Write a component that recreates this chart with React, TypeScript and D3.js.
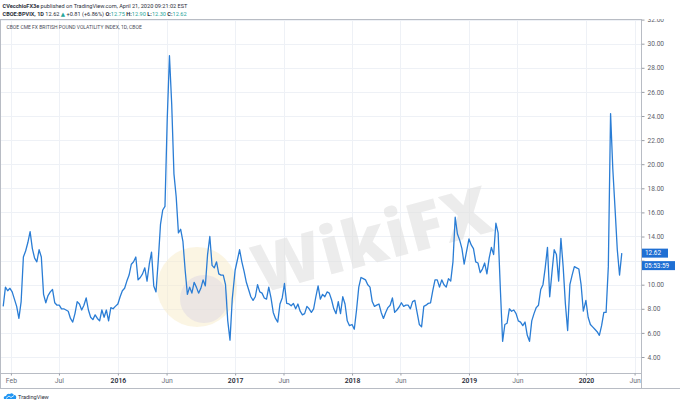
import React, { useEffect, useRef } from 'react';
import * as d3 from 'd3';

const WIDTH = 680;
const HEIGHT = 404;

// weekly readings of CBOE:BPVIX, each year counted from its first date
const vol2015 = [
  8.2, 9.8, 9.5, 9.7, 9.4, 8.8, 8.2, 7.2, 8.6, 12.3, 12.8, 13.5, 14.4, 13.0, 12.2, 11.9, 12.9,
  12.3, 9.2, 8.5, 9.1, 9.4, 9.6, 8.5, 8.3, 8.3, 8.0, 8.0, 7.9, 7.8, 7.2, 6.9, 7.6, 8.6, 8.4,
  7.9, 8.3, 8.9, 7.9, 7.3, 7.1, 7.5, 7.2, 7.0, 7.9, 7.3, 7.9, 7.0, 8.1, 8.0, 8.2
];
const vol2016 = [
  8.4, 9.0, 9.5, 9.7, 10.3, 10.8, 11.7, 11.9, 12.3, 10.4, 10.6, 10.9, 11.4, 10.3, 11.7, 12.7,
  9.9, 9.4, 12.0, 15.0, 16.2, 16.5, 23.7, 29.0, 25.0, 19.2, 17.3, 14.3, 14.6, 13.6, 11.2, 9.2,
  9.8, 9.3, 10.2, 9.8, 9.3, 9.7, 10.4, 9.9, 12.5, 14.0, 11.6, 11.4, 11.9, 10.9, 10.8, 10.8,
  10.0, 7.0, 5.4, 8.8
];
const vol2017 = [
  11.2, 12.05, 12.9, 11.9, 11.1, 10.2, 9.6, 9.0, 8.7, 9.0, 10.0, 9.4, 9.3, 8.9, 8.8, 9.8, 8.9,
  7.7, 7.2, 6.9, 8.4, 8.9, 10.1, 8.45, 8.4, 8.25, 8.45, 8.0, 8.4, 7.8, 7.5, 7.6, 8.2, 8.0, 7.7,
  8.0, 9.0, 9.9, 8.8, 9.2, 9.0, 9.4, 9.3, 8.75, 8.0, 7.6, 8.6, 7.6, 9.0, 8.4, 7.0, 6.6
];
const vol2018 = [
  6.7, 6.3, 7.9, 9.8, 10.6, 10.5, 10.4, 10.0, 9.8, 8.6, 8.2, 8.3, 8.4, 7.7, 7.2, 7.7, 8.1, 8.3,
  8.9, 7.7, 7.9, 8.15, 8.5, 8.2, 8.3, 8.3, 8.0, 8.6, 8.7, 7.7, 6.7, 6.5, 8.2, 8.3, 8.45, 8.5,
  9.5, 10.4, 10.4, 9.8, 10.4, 10.0, 9.8, 10.5, 10.3, 11.9, 15.6, 14.2, 13.7, 13.0, 11.7, 12.7
];
const vol2019 = [
  13.8, 13.3, 13.0, 11.9, 11.8, 11.0, 11.3, 11.8, 10.9, 12.2, 13.1, 12.5, 15.1, 14.3, 9.6, 5.3,
  6.7, 6.8, 8.0, 7.8, 7.9, 7.6, 7.0, 6.9, 6.6, 6.9, 5.8, 5.3, 7.0, 7.6, 8.1, 8.3, 9.6, 10.0,
  11.4, 13.1, 9.0, 11.0, 12.9, 12.5, 10.3, 13.85, 11.5, 8.4, 6.2, 10.0, 10.8, 11.5, 11.4, 11.3,
  10.0, 7.8
];
const vol2020 = [
  8.7, 7.3, 6.7, 6.5, 6.3, 6.1, 5.8, 6.6, 7.7, 7.7, 11.5, 24.2, 19.6, 16.3, 12.9, 10.8, 12.62
];

const yearStarts = ['2015-01-08', '2016-01-01', '2017-01-01', '2018-01-01', '2019-01-01', '2020-01-01'];
const yearValues = [vol2015, vol2016, vol2017, vol2018, vol2019, vol2020];

const yTickValues = [4, 6, 8, 10, 12, 14, 16, 18, 20, 22, 24, 26, 28, 30, 32];
const xTickDates = [
  '2015-02-01', '2015-07-01', '2016-01-01', '2016-06-01', '2017-01-01', '2017-06-01',
  '2018-01-01', '2018-06-01', '2019-01-01', '2019-06-01', '2020-01-01', '2020-06-01'
];
const xTickLabels = ['Feb', 'Jul', '2016', 'Jun', '2017', 'Jun', '2018', 'Jun', '2019', 'Jun', '2020', 'Jun'];

const LAST_VALUE = 12.62;
const COUNTDOWN = '05:53:59';

const FONT = 'Roboto, "DejaVu Sans", sans-serif';
const LINE_COLOR = '#2a7dd5';
const UP_COLOR = '#26a69a';

const parse = d3.timeParse('%Y-%m-%d');

export default function App() {
  const svgRef = useRef<SVGSVGElement>(null);

  useEffect(() => {
    if (!svgRef.current) return;

    const plot = { left: 0, right: 641, top: 19, bottom: 373 };
    const footer = 388;

    const svg = d3.select(svgRef.current);
    svg.selectAll('*').remove();

    const points = yearValues.flatMap((vals, i) =>
      vals.map((v, k) => ({ date: d3.timeDay.offset(parse(yearStarts[i])!, 7 * k), value: v }))
    );

    // Scales
    const x = d3.scaleTime()
      .domain([parse('2014-12-29')!, parse('2020-06-21')!])
      .range([plot.left, plot.right]);

    const y = d3.scaleLinear()
      .domain([4, 32])
      .range([357, 19.6]);

    const ly = y(LAST_VALUE);

    svg.append('rect')
      .attr('width', WIDTH)
      .attr('height', HEIGHT)
      .attr('fill', '#ffffff');

    svg.append('defs').append('clipPath')
      .attr('id', 'frame-clip')
      .append('rect')
      .attr('x', 0)
      .attr('y', plot.top)
      .attr('width', WIDTH)
      .attr('height', footer - plot.top);

    // Grid
    const grid = svg.append('g').attr('stroke', '#eef1f6').attr('stroke-width', 1);
    yTickValues.forEach(v => {
      grid.append('line')
        .attr('x1', plot.left).attr('x2', plot.right)
        .attr('y1', Math.round(y(v)) + 0.5).attr('y2', Math.round(y(v)) + 0.5);
    });
    xTickDates.forEach(d => {
      const px = Math.round(x(parse(d)!)) + 0.5;
      grid.append('line')
        .attr('x1', px).attr('x2', px)
        .attr('y1', plot.top).attr('y2', plot.bottom);
    });

    // Watermark
    svg.append('circle')
      .attr('cx', 197).attr('cy', 287).attr('r', 40)
      .attr('fill', '#f7ebc8').attr('opacity', 0.5);
    svg.append('circle')
      .attr('cx', 204).attr('cy', 299).attr('r', 24)
      .attr('fill', '#ddd7e4').attr('opacity', 0.5);
    svg.append('text')
      .attr('transform', 'translate(378,262) rotate(-15)')
      .attr('text-anchor', 'middle')
      .attr('font-family', '"Open Sans", sans-serif')
      .attr('font-weight', 800)
      .attr('font-size', 66)
      .attr('letter-spacing', 1)
      .attr('fill', '#e2e2e2')
      .attr('opacity', 0.65)
      .text('WikiFX');

    // Series line
    const line = d3.line<{ date: Date; value: number }>()
      .x(d => x(d.date))
      .y(d => y(d.value));

    svg.append('path')
      .datum(points)
      .attr('fill', 'none')
      .attr('stroke', LINE_COLOR)
      .attr('stroke-width', 1.3)
      .attr('stroke-linejoin', 'round')
      .attr('d', line);

    // Frame
    const frame = svg.append('g').attr('stroke', '#b8bcc4').attr('stroke-width', 1).attr('fill', 'none');
    frame.append('line').attr('x1', 0).attr('x2', plot.right).attr('y1', plot.top + 0.5).attr('y2', plot.top + 0.5);
    frame.append('line').attr('x1', 0).attr('x2', plot.right).attr('y1', plot.bottom + 0.5).attr('y2', plot.bottom + 0.5);
    frame.append('line').attr('x1', 0).attr('x2', WIDTH).attr('y1', footer + 0.5).attr('y2', footer + 0.5);
    frame.append('line').attr('x1', 0.5).attr('x2', 0.5).attr('y1', plot.top).attr('y2', footer);
    frame.append('line').attr('x1', plot.right + 0.5).attr('x2', plot.right + 0.5).attr('y1', plot.top).attr('y2', footer);

    // Right axis; labels hidden behind the last-value tag are skipped
    const yAxis = svg.append('g')
      .attr('clip-path', 'url(#frame-clip)')
      .attr('transform', `translate(${plot.right + 0.5},0)`)
      .call(
        d3.axisRight(y)
          .tickValues(yTickValues)
          .tickFormat(d3.format('.2f'))
          .tickSize(3)
          .tickPadding(3)
      );
    yAxis.select('.domain').remove();
    yAxis.selectAll('line').attr('stroke', '#9a9ea6');
    yAxis.selectAll<SVGTextElement, number>('text')
      .filter(d => y(d) > ly - 9 && y(d) < ly + 21)
      .remove();
    yAxis.selectAll('text')
      .attr('fill', '#5d606b')
      .attr('font-family', FONT)
      .attr('font-size', 6.6);

    // Bottom axis
    const xAxis = svg.append('g')
      .attr('transform', `translate(0,${plot.bottom + 0.5})`)
      .call(
        d3.axisBottom(x)
          .tickValues(xTickDates.map(d => parse(d)!))
          .tickFormat((_, i) => xTickLabels[i])
          .tickSize(2)
          .tickPadding(3)
      );
    xAxis.select('.domain').remove();
    xAxis.selectAll('line').attr('stroke', '#9a9ea6');
    xAxis.selectAll('text')
      .attr('fill', (_, i) => (/^\d+$/.test(xTickLabels[i]) ? '#2a2e39' : '#6a6d78'))
      .attr('font-weight', (_, i) => (/^\d+$/.test(xTickLabels[i]) ? 600 : 400))
      .attr('font-family', FONT)
      .attr('font-size', 6.8);

    // Last value labels
    const tag = svg.append('g').attr('font-family', FONT).attr('font-size', 6.4);
    tag.append('rect')
      .attr('x', plot.right + 1).attr('y', ly - 4.5)
      .attr('width', 26).attr('height', 9)
      .attr('fill', '#1f6fd3');
    tag.append('text')
      .attr('x', plot.right + 4).attr('y', ly + 2.3)
      .attr('fill', '#ffffff')
      .text(d3.format('.2f')(LAST_VALUE));
    tag.append('rect')
      .attr('x', plot.right + 1).attr('y', ly + 8)
      .attr('width', 33).attr('height', 9)
      .attr('fill', '#1f6fd3');
    tag.append('text')
      .attr('x', plot.right + 3.5).attr('y', ly + 14.8)
      .attr('fill', '#ffffff')
      .text(COUNTDOWN);

    // Header
    const header = svg.append('g').attr('font-family', FONT).attr('font-size', 5.6).attr('fill', '#2a2e39');
    const h1 = header.append('text').attr('x', 2.5).attr('y', 7.8);
    h1.append('tspan').attr('font-weight', 700).text('CVecchioFX3e');
    h1.append('tspan').text(' published on TradingView.com, April 21, 2020 09:21:02 EST');

    const h2 = header.append('text').attr('x', 2.5).attr('y', 16);
    h2.append('tspan').attr('font-weight', 700).text('CBOE:BPVIX, 1D');
    h2.append('tspan').text(' 12.62 ');
    h2.append('tspan').attr('fill', UP_COLOR).text('▲');
    h2.append('tspan').text(' +0.81 (+6.86%) ');
    [['O:', '12.75'], ['H:', '12.90'], ['L:', '12.30'], ['C:', '12.62']].forEach(([k, v], i) => {
      h2.append('tspan').attr('font-weight', 700).text((i ? ' ' : '') + k);
      h2.append('tspan').attr('fill', UP_COLOR).text(v);
    });

    svg.append('text')
      .attr('x', 6.5).attr('y', 28.8)
      .attr('font-family', FONT)
      .attr('font-size', 5)
      .attr('fill', '#4a4e59')
      .text('CBOE CME FX BRITISH POUND VOLATILITY INDEX, 1D, CBOE');

    // TradingView mark
    const brand = svg.append('g').attr('transform', 'translate(3,392)');
    brand.append('path')
      .attr('d', 'M1,7 Q0,4 3,4 Q4,1 7,2 Q9,0 11,3 Q14,3 13,7 Z')
      .attr('fill', '#2196f3');
    brand.append('path')
      .attr('d', 'M3,6.5 L6,4 L8,5.5 L11,3.5')
      .attr('stroke', '#ffffff')
      .attr('stroke-width', 0.8)
      .attr('fill', 'none');
    brand.append('text')
      .attr('x', 15).attr('y', 6.6)
      .attr('font-family', FONT)
      .attr('font-size', 5.6)
      .attr('fill', '#2a2e39')
      .text('TradingView');
  }, []);

  return (
    <svg
      ref={svgRef}
      width={WIDTH}
      height={HEIGHT}
      style={{ position: 'absolute', left: 0, top: 0, display: 'block' }}
    />
  );
}
